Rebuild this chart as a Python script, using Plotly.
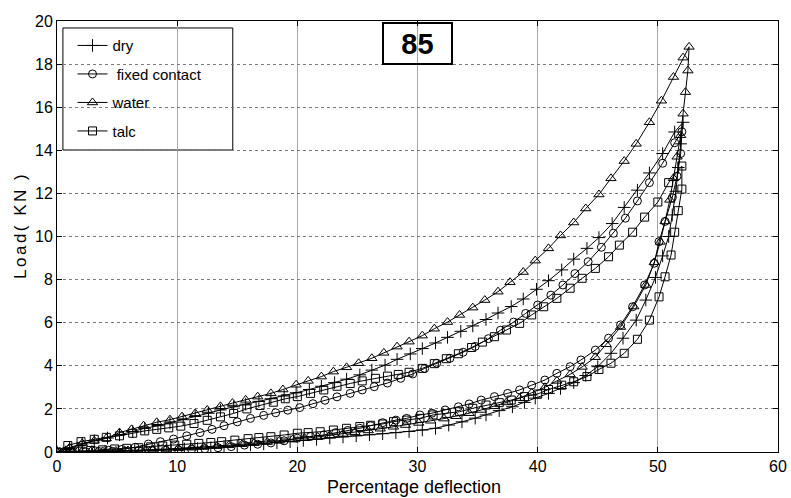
import plotly.graph_objects as go

# ---- data: (percentage deflection, load kN) ----
dry_load = [(0,0),(1.05,0.18),(2.1,0.38),(3.1,0.52),(4.2,0.65),(5.2,0.8),(6.3,0.95),(7.3,1.1),(8.4,1.22),(9.4,1.35),
            (10.5,1.5),(11.5,1.65),(12.6,1.8),(13.6,1.95),(14.7,2.1),(15.7,2.22),(16.8,2.35),(17.8,2.47),(18.9,2.6),(19.9,2.75),
            (21.0,2.9),(22.0,3.05),(23.1,3.22),(24.1,3.38),(25.2,3.58),(26.2,3.8),(27.3,4.03),(28.3,4.3),(29.4,4.55),(30.4,4.8),
            (31.5,5.06),(32.5,5.32),(33.6,5.6),(34.6,5.85),(35.7,6.15),(36.7,6.45),(37.8,6.75),(38.8,7.1),(39.9,7.55),(40.9,7.95),
            (42.0,8.45),(43.0,8.95),(44.1,9.45),(45.1,9.95),(46.2,10.6),(47.2,11.35),(48.3,12.15),(49.3,12.95),(50.4,13.85),(51.4,14.85),
            (52.1,15.3)]
dry_unload = [(51.9,14.3),(51.7,13.2),(51.5,12.1),(51.2,11.0),(50.9,10.0),(50.4,9.1),(49.8,8.1),(49.0,7.05),(48.2,6.12),(47.1,5.28),
              (46.1,4.58),(45.0,3.96),(44.0,3.55),(43.0,3.22),(41.9,2.95),(40.9,2.72),(39.8,2.5),(38.9,2.3),(37.9,2.1),(36.8,1.92),
              (35.7,1.72),(34.8,1.57),(33.7,1.4),(32.6,1.25),(31.5,1.1),(30.4,1.02),(29.3,0.95),(28.2,0.9),(27.1,0.85),(26.0,0.8),
              (24.9,0.75),(23.8,0.7),(22.7,0.65),(21.6,0.59),(20.5,0.54),(19.4,0.48),(18.3,0.43),(17.2,0.38),(16.1,0.33),(15.0,0.28),
              (13.9,0.24),(12.8,0.2),(11.7,0.17),(10.6,0.14),(9.5,0.11),(8.4,0.09),(7.3,0.07),(6.2,0.05),(5.1,0.04),(4.0,0.03),
              (2.9,0.02),(1.8,0.01),(0.7,0.0)]

fixed_load = [(0,0),(1.1,0.01),(2.2,0.03),(3.2,0.05),(4.3,0.08),(5.4,0.12),(6.5,0.22),(7.6,0.37),(8.6,0.48),(9.7,0.6),
              (10.8,0.75),(11.9,0.9),(12.9,1.05),(13.9,1.22),(15.0,1.4),(16.1,1.56),(17.2,1.7),(18.2,1.82),(19.2,1.94),(20.2,2.06),
              (21.3,2.24),(22.3,2.4),(23.3,2.56),(24.4,2.72),(25.4,2.88),(26.4,3.03),(27.5,3.2),(28.6,3.42),(29.6,3.62),(30.6,3.88),
              (31.6,4.12),(32.7,4.35),(33.8,4.63),(34.8,4.9),(35.9,5.26),(36.9,5.65),(38.0,6.03),(39.0,6.43),(40.0,6.82),(41.1,7.28),
              (42.1,7.75),(43.1,8.28),(44.2,8.83),(45.3,9.5),(46.3,10.15),(47.3,10.85),(48.3,11.65),(49.3,12.5),(50.4,13.4),(51.4,14.35),
              (52.0,14.86)]
fixed_unload = [(51.9,13.85),(51.6,12.8),(51.2,11.8),(50.6,10.7),(50.1,9.76),(49.7,8.76),(48.9,7.75),(47.9,6.74),(46.9,5.9),(45.9,5.28),
                (44.8,4.73),(43.6,4.27),(42.7,3.96),(41.6,3.65),(40.6,3.34),(39.5,3.1),(38.5,2.88),(37.5,2.72),(36.4,2.57),(35.3,2.41),
                (34.3,2.23),(33.4,2.1),(32.3,1.95),(31.2,1.8),(30.2,1.72),(29.1,1.56),(28.2,1.48),(27.1,1.36),(26.1,1.22),(25.2,1.1),
                (24.2,1.0),(23.2,0.9),(22.2,0.79),(21.1,0.72),(20.0,0.64),(18.9,0.52),(17.8,0.42),(16.7,0.36),(15.6,0.32),(14.5,0.25),
                (13.4,0.2),(12.3,0.15),(11.2,0.12),(10.1,0.1),(9.0,0.08),(7.9,0.06),(6.8,0.05),(5.7,0.04),(4.6,0.03),(3.5,0.02),
                (2.4,0.01),(1.3,0.0),(0.2,0.0)]

water_load = [(0,0),(1.05,0.2),(2.1,0.4),(3.1,0.52),(4.1,0.63),(5.2,0.9),(6.2,1.05),(7.2,1.22),(8.3,1.38),(9.4,1.5),
              (10.4,1.64),(11.5,1.79),(12.5,1.95),(13.6,2.12),(14.6,2.27),(15.7,2.42),(16.7,2.57),(17.8,2.72),(18.8,2.9),(19.9,3.12),
              (20.9,3.3),(22.0,3.5),(23.0,3.73),(24.1,3.93),(25.1,4.12),(26.2,4.35),(27.2,4.6),(28.3,4.89),(29.3,5.12),(30.4,5.4),
              (31.4,5.72),(32.5,6.03),(33.5,6.36),(34.6,6.7),(35.6,7.05),(36.7,7.44),(37.7,7.88),(38.8,8.35),(39.8,8.88),(40.9,9.45),
              (41.9,10.05),(43.0,10.65),(44.0,11.3),(45.1,11.95),(46.1,12.7),(47.2,13.5),(48.2,14.3),(49.3,15.3),(50.3,16.3),(51.3,17.4),
              (52.1,18.3),(52.6,18.8)]
water_unload = [(52.5,17.7),(52.3,16.7),(52.1,15.7),(51.9,14.7),(51.6,13.7),(51.3,12.7),(51.0,11.7),(50.6,10.7),(50.2,9.75),(49.7,8.8),
                (49.0,7.75),(48.0,6.75),(46.9,5.8),(45.7,5.0),(44.8,4.4),(43.7,3.95),(42.7,3.6),(41.6,3.3),(40.6,3.0),(39.5,2.75),
                (38.5,2.5),(37.4,2.3),(36.4,2.12),(35.3,1.95),(34.3,1.8),(33.2,1.66),(32.2,1.55),(31.1,1.45),(30.1,1.35),(29.0,1.25),
                (28.0,1.17),(26.9,1.08),(25.9,1.0),(24.8,0.92),(23.8,0.84),(22.7,0.77),(21.7,0.7),(20.6,0.64),(19.6,0.58),(18.5,0.52),
                (17.5,0.46),(16.4,0.41),(15.4,0.36),(14.3,0.31),(13.3,0.27),(12.2,0.23),(11.2,0.2),(10.1,0.17),(9.1,0.14),(8.0,0.11),
                (7.0,0.09),(5.9,0.07),(4.9,0.05),(3.8,0.03),(2.8,0.02),(1.7,0.01),(0.7,0.0)]

talc_load = [(0,0),(0.9,0.3),(2.0,0.48),(3.1,0.59),(4.1,0.68),(5.2,0.75),(6.3,0.87),(7.3,0.98),(8.3,1.05),(9.3,1.12),
             (10.3,1.2),(11.4,1.32),(12.5,1.47),(13.6,1.63),(14.7,1.79),(15.8,2.0),(16.9,2.16),(18.0,2.31),(19.0,2.47),(20.0,2.57),
             (21.1,2.72),(22.2,2.88),(23.3,3.05),(24.4,3.18),(25.4,3.3),(26.5,3.42),(27.5,3.52),(28.4,3.6),(29.3,3.7),(30.4,3.88),
             (31.4,4.1),(32.4,4.33),(33.4,4.56),(34.5,4.85),(35.4,5.1),(36.4,5.35),(37.4,5.66),(38.5,5.97),(39.5,6.36),(40.5,6.74),
             (41.6,7.13),(42.7,7.6),(43.7,8.06),(44.8,8.52),(45.9,9.06),(46.8,9.6),(47.9,10.2),(48.9,10.9),(50.0,11.6),(50.9,12.5),
             (52.0,13.27)]
talc_unload = [(52.0,12.2),(51.7,11.2),(51.4,10.2),(51.1,9.14),(50.6,8.13),(50.1,7.2),(49.3,6.12),(48.3,5.23),(47.2,4.58),(46.1,4.12),
               (45.1,3.83),(44.1,3.5),(43.0,3.26),(42.0,3.1),(40.9,2.9),(40.0,2.69),(38.9,2.57),(37.8,2.41),(36.8,2.29),(35.7,2.18),
               (34.6,2.03),(33.5,1.87),(32.4,1.79),(31.3,1.72),(30.2,1.56),(29.1,1.48),(28.0,1.41),(27.1,1.3),(26.1,1.24),(25.2,1.18),
               (24.1,1.1),(23.0,1.02),(21.9,0.94),(20.9,0.9),(20.0,0.87),(18.9,0.79),(17.8,0.71),(16.8,0.67),(15.9,0.62),(14.8,0.55),
               (13.7,0.48),(12.8,0.44),(11.8,0.4),(10.8,0.36),(9.8,0.32),(8.8,0.28),(7.8,0.24),(6.8,0.2),(5.8,0.17),(4.8,0.14),
               (3.8,0.1),(2.8,0.07),(1.8,0.04),(0.8,0.01)]

series_names = ["dry", "\u00a0fixed contact", "water", "talc"]
series_data = [(dry_load, dry_unload), (fixed_load, fixed_unload), (water_load, water_unload), (talc_load, talc_unload)]
series_symbols = ["cross-thin-open", "circle-open", "triangle-up-open", "square-open"]
series_sizes = [9, 8, 9, 8]

x_ticks = [0, 10, 20, 30, 40, 50, 60]
y_ticks = [0, 2, 4, 6, 8, 10, 12, 14, 16, 18, 20]
panel_label = "85"
x_title = "Percentage deflection"
y_title = "Load( KN )"

FONT = "Liberation Sans, Arial, sans-serif"

fig = go.Figure()
for i, (name, (ld, ul), sym, sz) in enumerate(zip(series_names, series_data, series_symbols, series_sizes)):
    pts = ld + ul
    fig.add_trace(go.Scatter(
        x=[p[0] for p in pts], y=[p[1] for p in pts],
        mode="lines+markers", name=name, legendgroup=f"g{i}",
        line=dict(color="black", width=1),
        marker=dict(symbol=sym, size=sz, color="black", line=dict(color="black", width=1)),
    ))

fig.update_layout(
    width=791, height=498,
    margin=dict(l=57, r=4, t=21, b=46),
    paper_bgcolor="white", plot_bgcolor="white",
    font=dict(family=FONT, size=16, color="black"),
    showlegend=True,
    legend=dict(x=0.0215, y=0.981, xanchor="left", yanchor="top",
                bgcolor="rgba(0,0,0,0)", borderwidth=0,
                font=dict(family=FONT, size=15, color="black"),
                tracegroupgap=6),
    xaxis=dict(range=[0, 60], tickvals=x_ticks, ticks="inside", ticklen=5, tickcolor="black",
               showline=True, linecolor="black", linewidth=1, mirror="ticks",
               showgrid=True, gridcolor="#a8a8a8", gridwidth=1, zeroline=False,
               ticklabeloverflow="allow",
               tickfont=dict(family=FONT, size=16)),
    yaxis=dict(range=[0, 20], tickvals=y_ticks, ticks="inside", ticklen=5, tickcolor="black",
               showline=True, linecolor="black", linewidth=1, mirror="ticks",
               showgrid=True, gridcolor="#7a7a7a", gridwidth=1, griddash="dot", zeroline=False,
               tickfont=dict(family=FONT, size=16)),
    shapes=[dict(type="rect", xref="paper", yref="paper", x0=0.0082, x1=0.2438, y0=0.7007, y1=0.9838,
                 line=dict(color="black", width=1), fillcolor="white", layer="between")],
    annotations=[
        dict(text=f"<b>{panel_label}</b>", xref="x", yref="paper", x=30, y=(452 - 43.5) / 431,
             xanchor="center", yanchor="middle", showarrow=False,
             font=dict(family=FONT, size=29, color="black"), bordercolor="black", borderwidth=2,
             borderpad=0, width=67, height=39, bgcolor="rgba(0,0,0,0)"),
        dict(text=x_title, xref="paper", yref="paper", x=(418.5 - 57) / 730, y=(452 - 487) / 431,
             xanchor="center", yanchor="middle",
             showarrow=False, font=dict(family=FONT, size=18, color="black")),
        dict(text=f"<span style='letter-spacing:2.5px'>{y_title}</span>", xref="paper", yref="paper",
             x=(19.5 - 57) / 730, y=(452 - 225) / 431,
             xanchor="center", yanchor="middle", textangle=-90,
             showarrow=False, font=dict(family=FONT, size=17, color="black")),
    ],
)

fig.write_html("out.html")
